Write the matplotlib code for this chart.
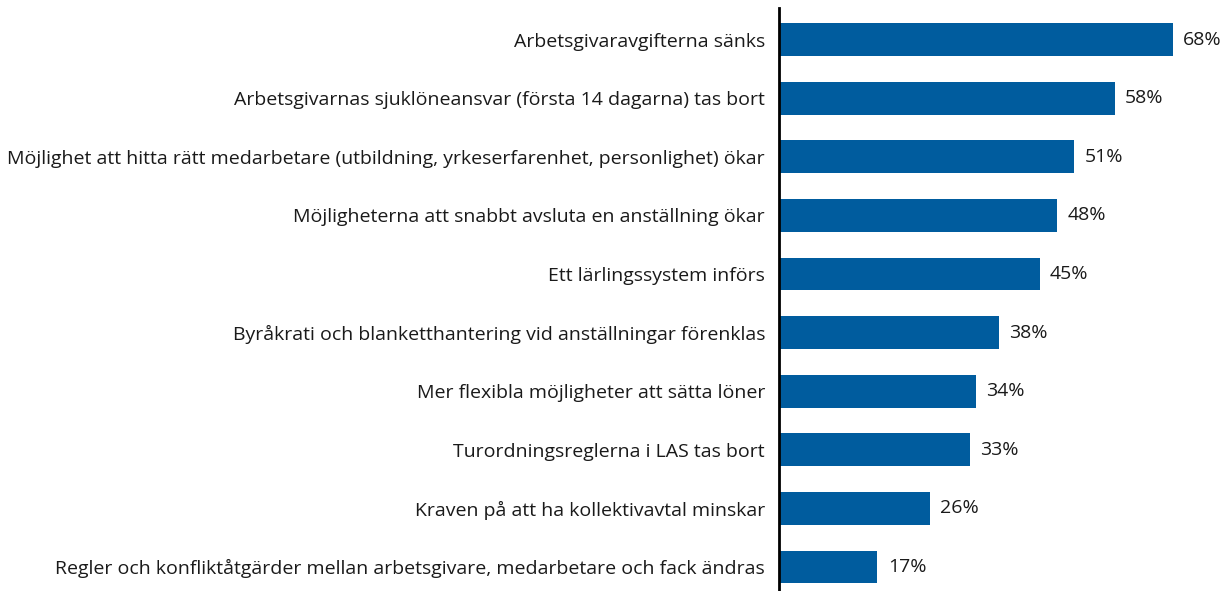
import matplotlib
matplotlib.use("Agg")
import matplotlib.pyplot as plt

categories = [
    "Arbetsgivaravgifterna sänks",
    "Arbetsgivarnas sjuklöneansvar (första 14 dagarna) tas bort",
    "Möjlighet att hitta rätt medarbetare (utbildning, yrkeserfarenhet, personlighet) ökar",
    "Möjligheterna att snabbt avsluta en anställning ökar",
    "Ett lärlingssystem införs",
    "Byråkrati och blanketthantering vid anställningar förenklas",
    "Mer flexibla möjligheter att sätta löner",
    "Turordningsreglerna i LAS tas bort",
    "Kraven på att ha kollektivavtal minskar",
    "Regler och konfliktåtgärder mellan arbetsgivare, medarbetare och fack ändras",
]
values = [68, 58, 51, 48, 45, 38, 34, 33, 26, 17]

plt.rcParams['font.family'] = ['Open Sans', 'DejaVu Sans']

W, H = 1229, 591
fig = plt.figure(figsize=(W / 100, H / 100), dpi=100)
ax_left = 779 / W
ax_top = 8 / H
ax = fig.add_axes([ax_left, 0, 1 - ax_left, 1 - ax_top])

pos = list(range(len(categories)))
ax.barh(pos, values, height=0.56, color="#005C9E", zorder=2)
ax.set_ylim(9.41, -0.54)
ax.set_xlim(0, (W - 779) / 5.79)

for p, v in zip(pos, values):
    ax.text(v + 1.8, p, f"{v}%", va="center", ha="left", fontsize=14, color="#1a1a1a")

ax.set_yticks(pos)
ax.set_yticklabels(categories, fontsize=14, color="#1a1a1a")
ax.tick_params(axis="y", length=0, pad=10)
ax.set_xticks([])
for s in ["top", "right", "bottom"]:
    ax.spines[s].set_visible(False)
ax.spines["left"].set_linewidth(2)
ax.spines["left"].set_color("black")

fig.savefig("out.png", dpi=100)
